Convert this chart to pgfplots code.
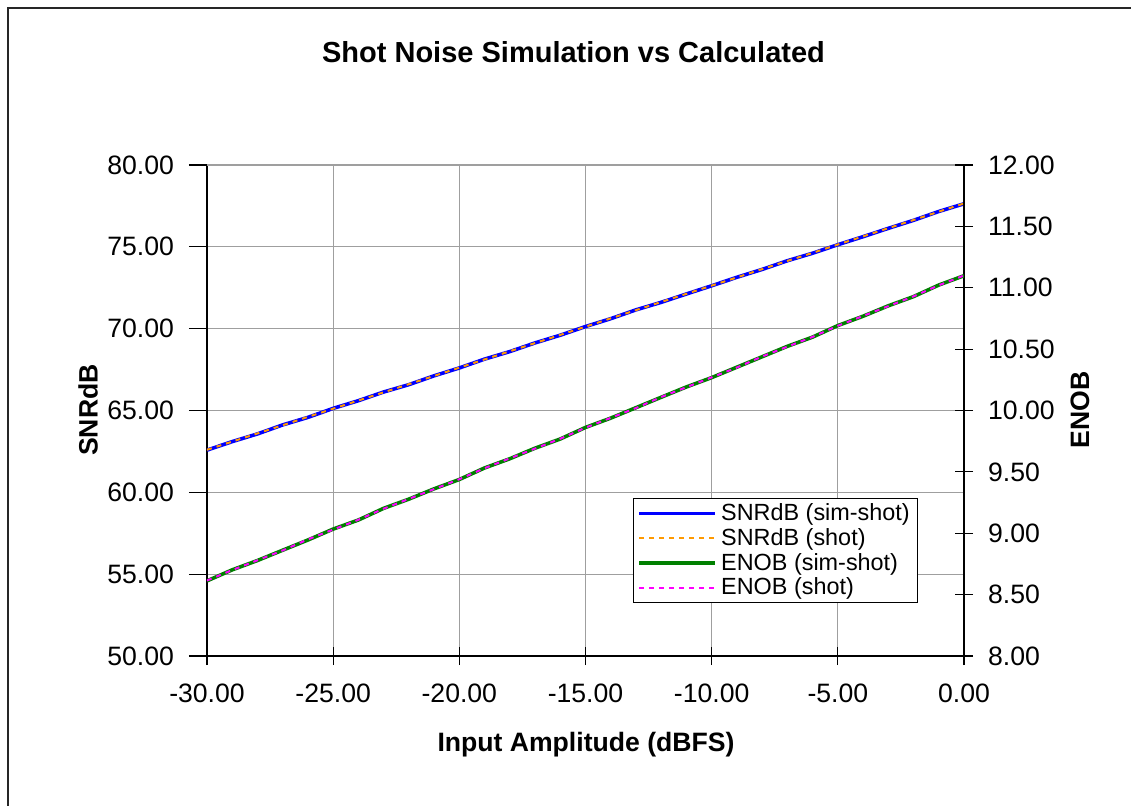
\documentclass[border=0pt]{standalone}
\usepackage{fontspec}
\setmainfont{Liberation Sans}
\usepackage{pgfplots}
\pgfplotsset{compat=1.18}

\pgfplotstableread{
x     sim    shot
-30   62.58  62.60
-29   63.10  63.10
-28   63.57  63.60
-27   64.12  64.10
-26   64.58  64.61
-25   65.13  65.11
-24   65.60  65.61
-23   66.13  66.11
-22   66.58  66.61
-21   67.12  67.11
-20   67.60  67.62
-19   68.14  68.12
-18   68.60  68.62
-17   69.13  69.12
-16   69.60  69.62
-15   70.13  70.12
-14   70.61  70.63
-13   71.15  71.13
-12   71.61  71.63
-11   72.12  72.13
-10   72.62  72.63
-9    73.14  73.13
-8    73.62  73.64
-7    74.15  74.14
-6    74.61  74.63
-5    75.13  75.14
-4    75.62  75.64
-3    76.13  76.14
-2    76.62  76.64
-1    77.16  77.15
0     77.63  77.65
}\snrdata

\pgfplotstableread{
x     sim    shot
-30   8.612  8.615
-29   8.702  8.700
-28   8.778  8.780
-27   8.862  8.860
-26   8.945  8.950
-25   9.034  9.030
-24   9.108  9.110
-23   9.203  9.200
-22   9.278  9.280
-21   9.362  9.360
-20   9.438  9.440
-19   9.532  9.530
-18   9.607  9.610
-17   9.693  9.690
-16   9.768  9.770
-15   9.862  9.860
-14   9.938  9.940
-13   10.023 10.020
-12   10.108 10.110
-11   10.192 10.190
-10   10.268 10.270
-9    10.353 10.350
-8    10.438 10.440
-7    10.523 10.520
-6    10.598 10.600
-5    10.692 10.690
-4    10.768 10.770
-3    10.853 10.850
-2    10.928 10.930
-1    11.022 11.020
0     11.098 11.100
}\enobdata

\definecolor{snrblue}{RGB}{0,0,255}
\definecolor{shotorange}{RGB}{255,153,0}
\definecolor{enobgreen}{RGB}{0,128,0}
\definecolor{shotmagenta}{RGB}{255,0,255}

\newcommand{\tickfont}{\fontsize{13.3}{15}\selectfont}

\begin{document}
\begin{tikzpicture}
  % page frame in pixel units (1px = 0.5pt), origin at the plot area's lower left
  \useasboundingbox (-103.5pt,-74.5pt) rectangle (462pt,328pt);
  \draw[line width=0.8pt, black!85] (-99.5pt,-80pt) -- (-99.5pt,324pt) -- (470pt,324pt);

  \pgfplotsset{
    every axis/.append style={
      scale only axis,
      width=378.5pt, height=245.5pt,
      at={(0pt,0pt)}, anchor=south west,
      xmin=-30, xmax=0,
      xtick={-30,-25,...,0},
      /pgf/number format/assume math mode=true,
      /pgf/number format/.cd, fixed, fixed zerofill, precision=2, /pgfplots/.cd,
      tick label style={font=\tickfont},
      major tick length=9pt,
      axis line style={black, line width=0.6pt},
      tick style={black, line width=0.6pt},
    },
  }

  \begin{axis}[
    axis y line*=left,
    axis x line*=bottom,
    ymin=50, ymax=80,
    ytick={50,55,...,80},
    grid=major,
    grid style={gray!75, line width=0.6pt},
    ytick align=outside,
    xtick align=center,
    yticklabel style={xshift=-4pt},
    xticklabel style={yshift=-6pt},
  ]
    \draw[gray!75, line width=0.6pt] (rel axis cs:0,1) -- (rel axis cs:1,1);
    \addplot[snrblue, line width=1.8pt] table[x=x, y=sim] {\snrdata};
    \addplot[shotorange, line width=1pt, dash pattern=on 2.5pt off 2.5pt] table[x=x, y=shot] {\snrdata};
  \end{axis}

  \begin{axis}[
    axis y line*=right,
    axis x line=none,
    ymin=8, ymax=12,
    ytick={8,8.5,...,12},
    ytick align=center,
    yticklabel style={xshift=4pt},
    legend style={
      at={(0.5628,0.3218)}, anchor=north west,
      draw=black, line width=0.6pt, fill=white,
      font=\fontsize{11.7}{13}\selectfont,
      inner xsep=2pt, inner ysep=0.5pt,
      row sep=-1.6pt,
      cells={anchor=west},
    },
    legend image code/.code={\draw[#1] (0pt,0pt) -- (38pt,0pt);},
  ]
    \addlegendimage{snrblue, line width=1.8pt}
    \addlegendentry{SNRdB (sim-shot)}
    \addlegendimage{shotorange, line width=1pt, dash pattern=on 2.5pt off 2.5pt}
    \addlegendentry{SNRdB (shot)}
    \addplot[enobgreen, line width=1.8pt] table[x=x, y=sim] {\enobdata};
    \addlegendentry{ENOB (sim-shot)}
    \addplot[shotmagenta, line width=1pt, dash pattern=on 2.5pt off 2.5pt] table[x=x, y=shot] {\enobdata};
    \addlegendentry{ENOB (shot)}
  \end{axis}

  \node[font=\fontsize{14.5}{17}\selectfont\bfseries] at (183.25pt,302pt) {Shot Noise Simulation vs Calculated};
  \node[font=\fontsize{13.3}{16}\selectfont\bfseries] at (189.5pt,-44.5pt) {Input Amplitude (dBFS)};
  \node[font=\fontsize{13.3}{16}\selectfont\bfseries, rotate=90] at (-59.5pt,123pt) {SNRdB};
  \node[font=\fontsize{13.3}{16}\selectfont\bfseries, rotate=90] at (436.5pt,123pt) {ENOB};
\end{tikzpicture}
\end{document}
